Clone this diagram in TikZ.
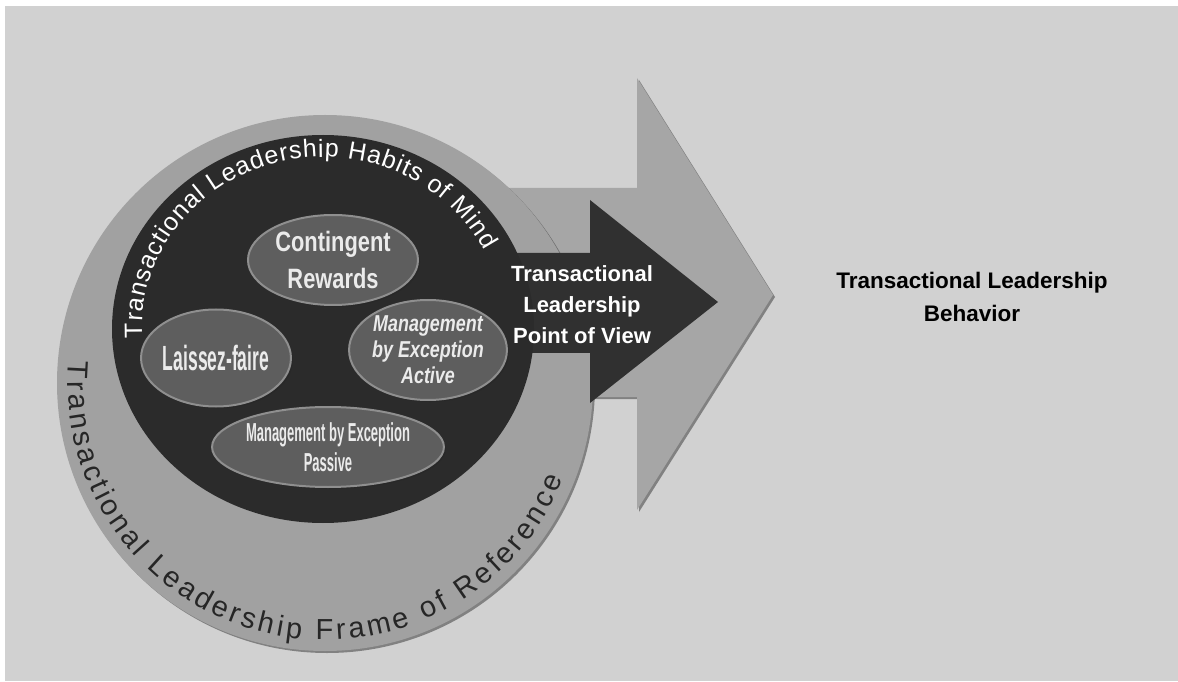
\documentclass[tikz,border=0pt]{standalone}
\usepackage{fontspec}
\setmainfont{Liberation Sans}
\newfontfamily\ovalfont[FakeStretch=0.78]{Liberation Sans}
\newfontfamily\squeezefont[FakeStretch=0.5]{Liberation Sans}
\usetikzlibrary{shapes.geometric, shadows, decorations.text}

\definecolor{paper}{gray}{0.82}
\definecolor{ringgray}{gray}{0.63}
\definecolor{arrowgray}{gray}{0.65}
\definecolor{mindgray}{gray}{0.17}
\definecolor{viewgray}{gray}{0.19}
\definecolor{ovalgray}{gray}{0.37}
\definecolor{ovalrim}{gray}{0.56}
\definecolor{ovaltext}{gray}{0.92}

\tikzstyle{oval} = [ellipse, draw=ovalrim, line width=2pt, fill=ovalgray, text=ovaltext, align=center, inner sep=0pt, drop shadow={shadow xshift=2pt, shadow yshift=-2pt, fill=black!85}]
\tikzstyle{edge} = [drop shadow={shadow xshift=2pt, shadow yshift=-2pt, fill=black!80}]
\tikzset{every node/.style={align=center}}

\begin{document}
\begin{tikzpicture}[x=1pt, y=1pt]
    % page
    \fill[white] (0,0) rectangle (1178,681);
    \fill[paper] (5,0) rectangle (1178,675);
    \useasboundingbox (0,0) rectangle (1178,681);

    \coordinate (frame) at (325,298);
    \coordinate (mind)  at (323,352);

    % behaviour arrow
    \fill[arrowgray, edge] (480,493) -- (637,493) -- (637,603) -- (773,386)
        -- (637,171) -- (637,284) -- (480,284) -- cycle;

    % frame of reference and point of view arrow
    \fill[ringgray, edge] (frame) circle[radius=268];
    \fill[viewgray] (450,428) -- (590,428) -- (590,481) -- (718,379)
        -- (590,278) -- (590,328) -- (450,328) -- cycle;
    \fill[mindgray] (mind) ellipse[x radius=211, y radius=194];

    % habits
    \node (rewards) [oval, minimum width=170pt, minimum height=90pt,
        font=\ovalfont\bfseries\fontsize{28pt}{37pt}\selectfont] at (333,421) {Contingent\\Rewards};
    \node (laissez) [oval, minimum width=128pt, minimum height=97pt,
        font=\squeezefont\bfseries\fontsize{35pt}{36pt}\selectfont] at (216,323) {Laissez-faire};
    \node (active)  [oval, minimum width=135pt, minimum height=100pt,
        font=\ovalfont\bfseries\itshape\fontsize{23pt}{26pt}\selectfont] at (428,331) {Management\\by Exception\\Active};
    \node (passive) [oval, minimum width=195pt, minimum height=80pt,
        font=\squeezefont\bfseries\fontsize{26pt}{30pt}\selectfont] at (328,234) {Management by Exception\\Passive};

    % labels
    \node (view) [text=white, font=\bfseries\fontsize{22pt}{31pt}\selectfont] at (582,376)
        {Transactional\\Leadership\\Point of View};
    \node (behavior) [font=\bfseries\fontsize{22.5pt}{33pt}\selectfont] at (972,384)
        {Transactional Leadership\\Behavior};

    % text round the circles
    \path[decorate, decoration={text along path, text align={fit to path},
        text={|\color{white}\fontsize{25pt}{25pt}\selectfont|Transactional Leadership Habits of Mind}}]
        ([shift={(183:181 and 172)}]mind) arc[start angle=183, end angle=27, x radius=181, y radius=172];
    \path[decorate, decoration={text along path, text align={fit to path},
        text={|\color{black!85}\fontsize{29pt}{29pt}\selectfont|Transactional Leadership Frame of Reference}}]
        ([shift={(175:257)}]frame) arc[start angle=175, end angle=338, radius=257];
\end{tikzpicture}
\end{document}
